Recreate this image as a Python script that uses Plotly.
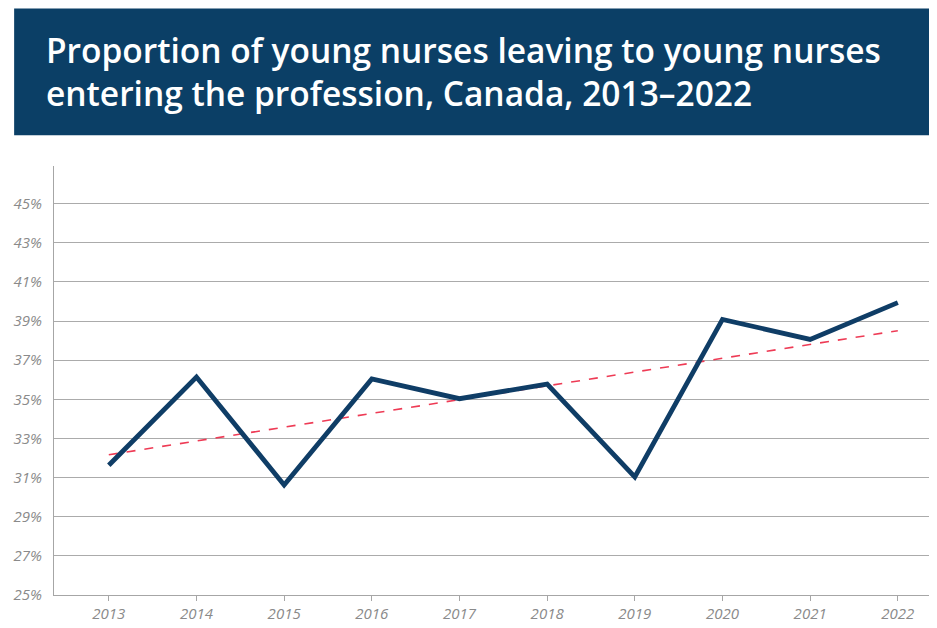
import numpy as np
import plotly.graph_objects as go

years = [2013, 2014, 2015, 2016, 2017, 2018, 2019, 2020, 2021, 2022]
ratio_pct = [31.63, 36.14, 30.62, 36.04, 35.03, 35.78, 31.03, 39.08, 38.06, 39.94]
y_ticks = [25, 27, 29, 31, 33, 35, 37, 39, 41, 43, 45]
y_tick_labels = [f"{v}%" for v in y_ticks]
title_line1 = "Proportion of young nurses leaving to young nurses"
title_line2 = "entering the profession, Canada, 2013\u20132022"

x = np.array(years, dtype=float)
slope, intercept = np.polyfit(x, np.array(ratio_pct), 1)
trend = slope * x + intercept

# page has an 8px body margin; figure coordinates = page coordinates - 8
OFF = 8
W, H = 937 - OFF, 628 - OFF
L, R, T, B = 51 - OFF, 5, 166 - OFF, 29
pw, ph = W - L - R, H - T - B

def px(xp):
    return (xp - OFF - L) / pw

def py(yp):
    return (H - B - (yp - OFF)) / ph

fig = go.Figure()
fig.add_trace(go.Scatter(x=years, y=list(trend), mode="lines",
                         line=dict(color="#EE3B55", width=1.6, dash="dash"),
                         hoverinfo="skip", showlegend=False))
fig.add_trace(go.Scatter(x=years, y=ratio_pct, mode="lines",
                         line=dict(color="#0F3D66", width=4.8),
                         showlegend=False))

tick_font = dict(family="Open Sans", size=15, color="#8A8A8A", style="italic")
title_font = dict(family="Open Sans", size=33.5, color="white", weight=600)

fig.update_layout(
    width=W, height=H,
    margin=dict(l=L, r=R, t=T, b=B),
    paper_bgcolor="white", plot_bgcolor="white",
    xaxis=dict(range=[2013 - 0.625, 2022 + 0.39], tickvals=years,
               ticktext=[str(y) for y in years], tickfont=tick_font,
               showgrid=False, zeroline=False, showline=True,
               linecolor="#A6A6A6", linewidth=1.3, ticks="outside",
               ticklen=5, tickcolor="#A6A6A6", fixedrange=True),
    yaxis=dict(range=[25, 46.92], tickvals=y_ticks, ticktext=y_tick_labels,
               tickfont=tick_font, showgrid=True, gridcolor="#ABABAB",
               gridwidth=1, zeroline=False, showline=True,
               linecolor="#A6A6A6", linewidth=1.3, ticks="", ticklabelstandoff=8,
               fixedrange=True),
    shapes=[dict(type="rect", xref="paper", yref="paper",
                 x0=px(11), x1=px(932), y0=py(135), y1=py(7),
                 fillcolor="#0B3F66", line=dict(width=0), layer="above")],
    annotations=[
        dict(text=title_line1, xref="paper", yref="paper", x=px(41), y=py(49),
             xanchor="left", yanchor="middle", showarrow=False, font=title_font),
        dict(text=title_line2, xref="paper", yref="paper", x=px(41), y=py(92),
             xanchor="left", yanchor="middle", showarrow=False, font=title_font),
    ],
)

fig.write_html("out.html")
